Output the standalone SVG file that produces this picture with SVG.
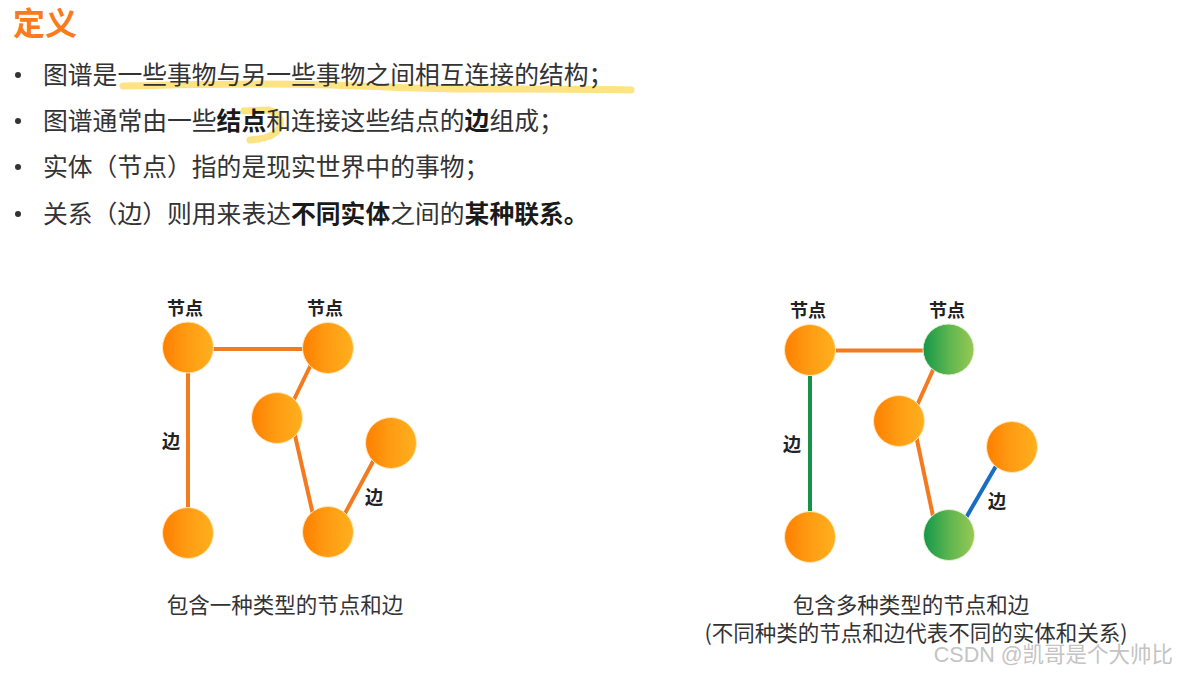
<svg xmlns="http://www.w3.org/2000/svg" width="1178" height="674" viewBox="0 0 1178 674">
<defs>
<linearGradient id="gOrange" x1="0" y1="0" x2="1" y2="0">
<stop offset="0" stop-color="#ff7f00"/>
<stop offset="0.45" stop-color="#ff9a12"/>
<stop offset="1" stop-color="#ffb01e"/>
</linearGradient>
<linearGradient id="gGreen" x1="0" y1="0" x2="1" y2="0">
<stop offset="0" stop-color="#13974a"/>
<stop offset="0.5" stop-color="#5db54f"/>
<stop offset="1" stop-color="#98c955"/>
</linearGradient>
<style>
.body{font-family:"Noto Sans CJK SC","Noto Sans",sans-serif;font-size:24.8px;fill:#333333}
.b{font-weight:bold;fill:#1a1a1a}
.title{font-family:"Noto Sans CJK SC",sans-serif;font-size:32px;font-weight:bold;fill:#fa7a1c}
.lbl{font-family:"Noto Sans CJK SC",sans-serif;font-size:18px;font-weight:bold;fill:#222222;text-anchor:middle}
.cap{font-family:"Noto Sans CJK SC",sans-serif;font-size:21.5px;fill:#333333;text-anchor:middle}
.wm{font-family:"Liberation Sans","Noto Sans CJK SC",sans-serif;font-size:21.5px;fill:#c4c4c4;text-anchor:end}
.dot{fill:#333333}
.e{stroke-width:4;stroke-linecap:butt;fill:none}
.eo{stroke:#f47a1f}
.eg{stroke:#17924a}
.eb{stroke:#1a6ec2}
.no{fill:url(#gOrange);stroke:#ffe6b8;stroke-width:1}
.ng{fill:url(#gGreen);stroke:#e4f2d0;stroke-width:1}
.hl{fill:none;stroke:#fcd95a;stroke-opacity:0.75;stroke-width:7;stroke-linecap:round;stroke-linejoin:round}
</style>
</defs>
<rect width="1178" height="674" fill="#ffffff"/>

<g id="highlights">
<path class="hl" d="M123 86 C200 84 280 83 330 85 C400 87 420 89 470 89 C540 89 590 89 631 90"/>
<path class="hl" d="M244 111 L268 110 Q282 113 280 126 Q277 138 250 140"/>
</g>

<text class="title" x="13" y="35">定义</text>

<g id="bullets">
<circle class="dot" cx="18" cy="75" r="3"/>
<circle class="dot" cx="18" cy="121" r="3"/>
<circle class="dot" cx="18" cy="167" r="3"/>
<circle class="dot" cx="18" cy="214" r="3"/>
<text class="body" x="43" y="84">图谱是一些事物与另一些事物之间相互连接的结构；</text>
<text class="body" x="43" y="130">图谱通常由一些<tspan class="b">结点</tspan>和连接这些结点的<tspan class="b">边</tspan>组成；</text>
<text class="body" x="43" y="176">实体（节点）指的是现实世界中的事物；</text>
<text class="body" x="43" y="223">关系（边）则用来表达<tspan class="b">不同实体</tspan>之间的<tspan class="b">某种联系。</tspan></text>
</g>

<g id="connectors">
<line class="e eo" x1="188" y1="349" x2="328" y2="349"/>
<line class="e eo" x1="188" y1="348" x2="188" y2="533"/>
<line class="e eo" x1="319" y1="348" x2="285" y2="418"/>
<line class="e eo" x1="291" y1="418" x2="317" y2="532"/>
<line class="e eo" x1="383" y1="443" x2="335" y2="532"/>

<line class="e eo" x1="810" y1="350.5" x2="949" y2="350.5"/>
<line class="e eg" x1="810" y1="350" x2="810" y2="537"/>
<line class="e eo" x1="942" y1="350" x2="910" y2="421"/>
<line class="e eo" x1="913" y1="421" x2="937" y2="535"/>
<line class="e eb" x1="1007" y1="447" x2="956" y2="535"/>
</g>

<g id="left-graph">
<g id="L-A"><circle class="no" cx="188" cy="347.5" r="25.5"/><text class="lbl" x="185" y="315">节点</text></g>
<g id="L-B"><circle class="no" cx="328" cy="348" r="25.5"/><text class="lbl" x="325" y="315">节点</text></g>
<g id="L-C"><circle class="no" cx="277" cy="418" r="25.5"/></g>
<g id="L-D"><circle class="no" cx="391" cy="443" r="25.5"/></g>
<g id="L-E"><circle class="no" cx="188" cy="533" r="25.5"/></g>
<g id="L-F"><circle class="no" cx="328" cy="532" r="25.5"/></g>
<text class="lbl" x="171" y="448">边</text>
<text class="lbl" x="374" y="504">边</text>
<text class="cap" x="285" y="613">包含一种类型的节点和边</text>
</g>

<g id="right-graph">
<g id="R-A"><circle class="no" cx="810" cy="350" r="25.5"/><text class="lbl" x="808" y="317">节点</text></g>
<g id="R-B"><circle class="ng" cx="948.5" cy="349.5" r="25.5"/><text class="lbl" x="947" y="317">节点</text></g>
<g id="R-C"><circle class="no" cx="899" cy="421" r="25.5"/></g>
<g id="R-D"><circle class="no" cx="1012" cy="447" r="25.5"/></g>
<g id="R-E"><circle class="no" cx="810" cy="537" r="25.5"/></g>
<g id="R-F"><circle class="ng" cx="949" cy="535" r="25.5"/></g>
<text class="lbl" x="792" y="451">边</text>
<text class="lbl" x="997" y="508">边</text>
<text class="cap" x="911" y="613">包含多种类型的节点和边</text>
<text class="cap" x="916" y="641">(不同种类的节点和边代表不同的实体和关系)</text>
</g>

<text class="wm" x="1173" y="662">CSDN @凯哥是个大帅比</text>
</svg>
